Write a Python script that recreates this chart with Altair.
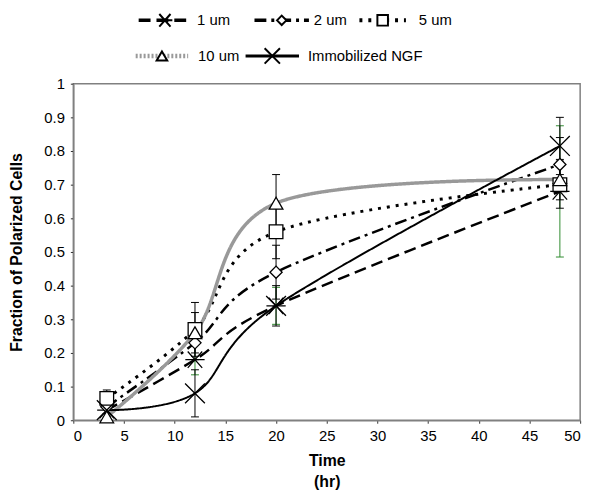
import altair as alt
import pandas as pd

# ---- data ----
times = [3.3, 12, 20, 48]
series_names = ["1 um", "2 um", "5 um", "10 um", "Immobilized NGF"]
val_1um = [0.03, 0.18, 0.34, 0.68]
val_2um = [0.04, 0.23, 0.44, 0.76]
val_5um = [0.065, 0.27, 0.56, 0.70]
val_10um = [0.01, 0.26, 0.645, 0.715]
val_ngf = [0.03, 0.08, 0.34, 0.815]
err_1um = [0.02, 0.045, 0.055, 0.195]
err_2um = [0.02, 0.05, 0.08, 0.08]
err_5um = [0.025, 0.08, 0.08, 0.07]
err_10um = [0.01, 0.06, 0.085, 0.06]
err_ngf = [0.02, 0.07, 0.06, 0.085]
x_ticks = [0, 5, 10, 15, 20, 25, 30, 35, 40, 45, 50]
y_ticks = [0, 0.1, 0.2, 0.3, 0.4, 0.5, 0.6, 0.7, 0.8, 0.9, 1]

values = [val_1um, val_2um, val_5um, val_10um, val_ngf]
errors = [err_1um, err_2um, err_5um, err_10um, err_ngf]

rows = []
for name, vals, errs in zip(series_names, values, errors):
    for t, v, e in zip(times, vals, errs):
        rows.append({"series": name, "time": t, "value": v, "lo": v - e, "hi": v + e})
df = pd.DataFrame(rows)

FONT = "Liberation Sans"
ASTER = "M-1,0L1,0M-0.75,-0.85L0.75,0.85M-0.75,0.85L0.75,-0.85"
XMARK = "M-1,-1L1,1M-1,1L1,-1"

styles = {
    "1 um": dict(color="black", width=2.5, dash=[12, 6], shape=ASTER, size=380, errcolor="#2e8b2e"),
    "2 um": dict(color="black", width=2.5, dash=[12, 5, 3, 5], shape="diamond", size=150, errcolor="black"),
    "5 um": dict(color="black", width=3, dash=[3, 6], shape="square", size=190, errcolor="black"),
    "10 um": dict(color="#999999", width=3.5, dash=[1, 0], shape="triangle-up", size=190, errcolor="black"),
    "Immobilized NGF": dict(color="black", width=2, dash=[1, 0], shape=XMARK, size=400, errcolor="black"),
}

xs = alt.Scale(domain=[0, 50], nice=False)
ys = alt.Scale(domain=[0, 1], nice=False)
x_axis = alt.Axis(values=x_ticks, format="d", title=["Time", "(hr)"],
                  titleFontWeight="bold", titleFontSize=16, titleLineHeight=21,
                  titlePadding=10, labelPadding=5, labelOverlap=False)
y_axis = alt.Axis(values=y_ticks, format=".1~f", labelOverlap=False, tickCount=11,
                  title="Fraction of Polarized Cells", titleFontWeight="bold",
                  titleFontSize=16, titlePadding=20, labelPadding=6)

XA = alt.X("time:Q", scale=xs, axis=x_axis)
def YA(f):
    return alt.Y(f, scale=ys, axis=y_axis)

base = alt.Chart(df)
layers = []
for name in series_names:
    s = styles[name]
    d = base.transform_filter(alt.datum.series == name)
    layers.append(d.mark_line(interpolate="cardinal", tension=0, color=s["color"],
                              strokeWidth=s["width"], strokeDash=s["dash"]).encode(x=XA, y=YA("value:Q")))
for name in series_names:
    s = styles[name]
    d = base.transform_filter(alt.datum.series == name)
    layers.append(d.mark_rule(color=s["errcolor"], strokeWidth=1).encode(
        x=XA, y=YA("lo:Q"), y2="hi:Q"))
    layers.append(d.mark_point(shape="stroke", size=64, color=s["errcolor"], strokeWidth=1,
                               opacity=1).encode(x=XA, y=YA("lo:Q")))
    layers.append(d.mark_point(shape="stroke", size=64, color=s["errcolor"], strokeWidth=1,
                               opacity=1).encode(x=XA, y=YA("hi:Q")))
for name in series_names:
    s = styles[name]
    d = base.transform_filter(alt.datum.series == name)
    filled_shape = s["shape"] in ("diamond", "square", "triangle-up")
    layers.append(d.mark_point(shape=s["shape"], size=s["size"], filled=False,
                               fill="white" if filled_shape else None,
                               fillOpacity=1 if filled_shape else 0,
                               stroke="black", strokeWidth=1.3, opacity=1).encode(
        x=XA, y=YA("value:Q")))

# ---- legend (pixel layout relative to plot origin at page (74, 82)) ----
OX, OY = 74, 82
legend_layout = {
    "1 um": (140, 193, 18, 199),
    "2 um": (257, 312, 18, 317),
    "5 um": (363, 410, 18, 423),
    "10 um": (137, 190, 54, 200),
    "Immobilized NGF": (248, 302, 54, 311),
}
one = pd.DataFrame({"k": [0]})
for name in series_names:
    s = styles[name]
    x0, x1, yy, tx = legend_layout[name]
    lc = alt.Chart(one)
    ldash = [2, 2] if name == "10 um" else s["dash"]
    layers.append(lc.mark_rule(color=s["color"], strokeWidth=s["width"] + 1, strokeDash=ldash).encode(
        x=alt.value(x0 - OX), x2=alt.value(x1 - OX), y=alt.value(yy - OY)))
    layers.append(lc.mark_point(shape=s["shape"], size=s["size"] * 0.6, filled=False,
                                fill="white", fillOpacity=1, stroke="black",
                                strokeWidth=2, opacity=1).encode(
        x=alt.value((x0 + x1) / 2 - OX), y=alt.value(yy - OY)))
    layers.append(lc.mark_text(text=name, align="left", baseline="middle", font=FONT,
                               fontSize=15, color="black").encode(
        x=alt.value(tx - OX), y=alt.value(yy - OY)))

chart = alt.layer(*layers).properties(
    width=512, height=340,
    autosize=alt.AutoSizeParams(type="none"),
    padding={"left": 66, "top": 74, "right": 15, "bottom": 70},
    background="white",
).configure_view(stroke="#808080", strokeWidth=1.5).configure_axis(
    grid=False, domainColor="#808080", domainWidth=1.5, tickColor="#333333", tickSize=3,
    labelFont=FONT, titleFont=FONT, labelFontSize=15, labelColor="black", titleColor="black",
    labelOverlap=False
)

chart.save("out.html", embed_options={"renderer": "svg", "actions": False})
